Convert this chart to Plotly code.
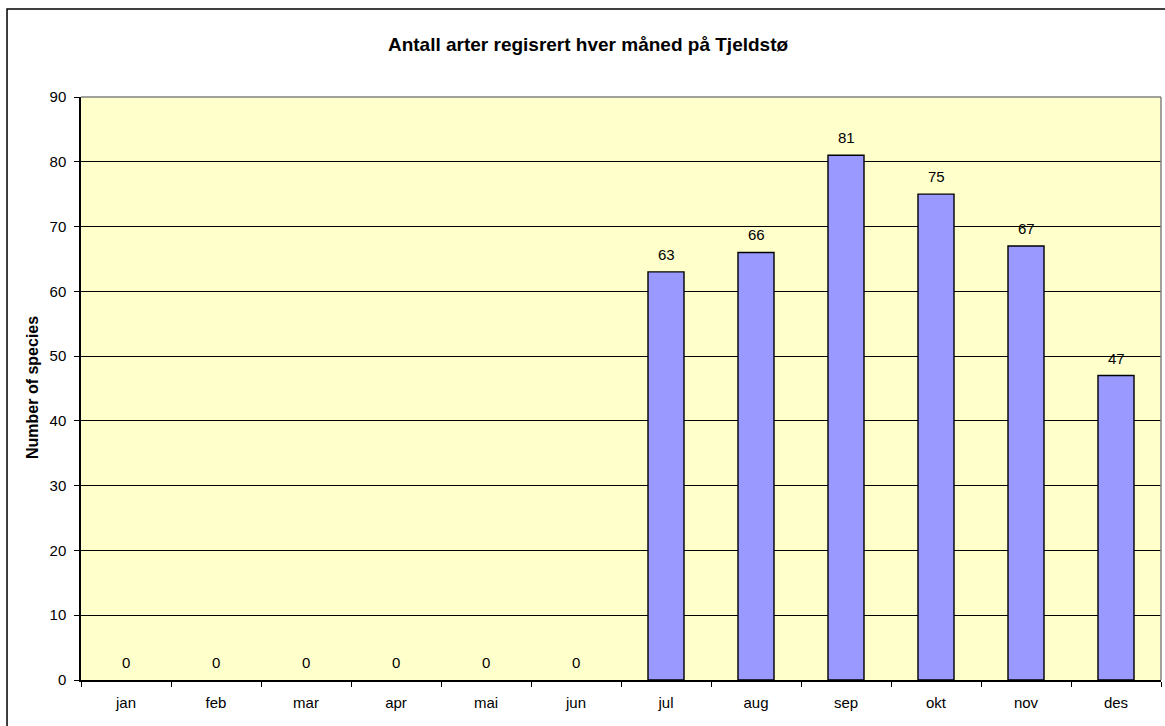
import plotly.graph_objects as go

months = ["jan", "feb", "mar", "apr", "mai", "jun", "jul", "aug", "sep", "okt", "nov", "des"]
species = [0, 0, 0, 0, 0, 0, 63, 66, 81, 75, 67, 47]
y_ticks = [0, 10, 20, 30, 40, 50, 60, 70, 80, 90]

FONT = "Liberation Sans, Arial, sans-serif"

fig = go.Figure()
fig.add_trace(go.Bar(
    x=months, y=species, width=0.4,
    marker=dict(color="#9999FF",
                line=dict(color="black", width=[1.4 if v > 0 else 0 for v in species])),
    hoverinfo="x+y",
))

for m, v in zip(months, species):
    fig.add_annotation(x=m, y=v, text=str(v), showarrow=False, yanchor="bottom",
                       yshift=7, font=dict(family=FONT, size=15, color="black"))

fig.add_annotation(xref="paper", yref="paper", x=-0.0444, y=0.5009, text="<b>Number of species</b>",
                   textangle=-90, showarrow=False, font=dict(family=FONT, size=16, color="black"),
                   xanchor="center", yanchor="middle")

# outer chart frame
fig.add_shape(type="rect", xref="paper", yref="paper", x0=-0.0685, x1=1.02, y0=-0.1, y1=1.151,
              line=dict(color="black", width=1.5), layer="below")
# gray plot-area border top/right
fig.add_shape(type="line", xref="paper", yref="paper", x0=0, x1=1, y0=1, y1=1,
              line=dict(color="#808080", width=1.5), layer="above")
fig.add_shape(type="line", xref="paper", yref="paper", x0=1, x1=1, y0=0, y1=1,
              line=dict(color="#808080", width=1.5), layer="above")

fig.update_layout(
    width=1165, height=726,
    margin=dict(l=81, r=4, t=97, b=46),
    paper_bgcolor="white", plot_bgcolor="#FFFFCC",
    showlegend=False, bargap=0.6,
    title=dict(text="<b>Antall arter regisrert hver måned på Tjeldstø</b>",
               x=588 / 1165, xanchor="center", xref="container",
               y=1 - 44 / 726, yanchor="middle", yref="container",
               font=dict(family=FONT, size=19, color="black")),
    font=dict(family=FONT, size=15, color="black"),
    xaxis=dict(type="category", tickson="boundaries", ticks="outside", ticklen=5,
               ticklabelstandoff=8,
               tickcolor="black", showline=True, linecolor="black", linewidth=1.5,
               showgrid=False, tickfont=dict(family=FONT, size=15, color="black")),
    yaxis=dict(range=[0, 90], tickvals=y_ticks, ticks="outside", ticklen=5,
               ticklabelstandoff=5,
               tickcolor="black", showline=True, linecolor="black", linewidth=1.5,
               showgrid=True, gridcolor="black", gridwidth=1, zeroline=False,
               tickfont=dict(family=FONT, size=15, color="black")),
)

fig.write_html("out.html", config={"displayModeBar": False},
               post_script="document.body.style.margin='0';document.body.style.overflow='hidden';")
